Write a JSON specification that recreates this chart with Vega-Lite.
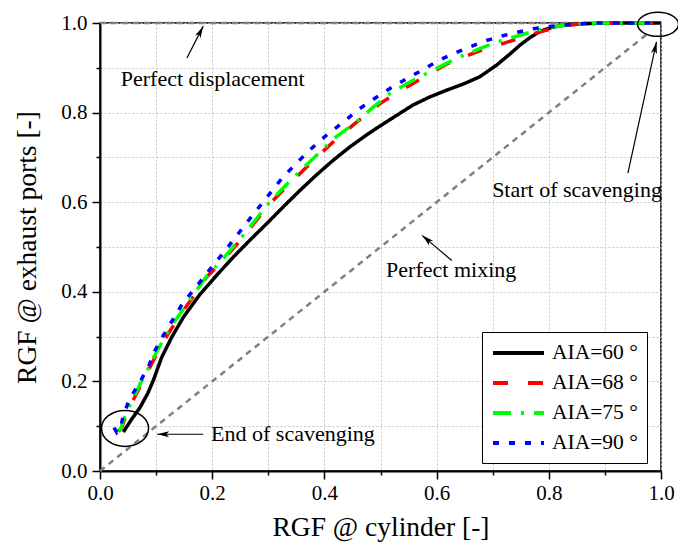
{
  "$schema": "https://vega.github.io/schema/vega-lite/v6.json",
  "width": 561,
  "height": 448,
  "autosize": "none",
  "padding": {"left": 100, "top": 23, "right": 17, "bottom": 73},
  "background": "white",
  "config": {
    "font": "Liberation Serif, Times New Roman, serif",
    "view": {"stroke": "black", "strokeWidth": 1.5},
    "text": {"font": "Liberation Serif, Times New Roman, serif"},
    "axis": {
      "grid": true,
      "gridColor": "#c8c8c8",
      "gridDash": [2, 2],
      "gridWidth": 1,
      "domainColor": "black",
      "domainWidth": 2,
      "tickColor": "black",
      "tickWidth": 1.5,
      "labelFont": "Liberation Serif, Times New Roman, serif",
      "labelFontSize": 21,
      "labelColor": "black",
      "labelFlush": false,
      "titleFont": "Liberation Serif, Times New Roman, serif",
      "titleFontSize": 27.5,
      "titleFontWeight": "normal",
      "titleColor": "black"
    },
    "legend": {
      "labelFont": "Liberation Serif, Times New Roman, serif"
    }
  },
  "datasets": {
    "curves": [
      {"series": "AIA=60 °", "i": 1, "x": 0.0416, "y": 0.087},
      {"series": "AIA=60 °", "i": 2, "x": 0.055, "y": 0.113},
      {"series": "AIA=60 °", "i": 3, "x": 0.071, "y": 0.141},
      {"series": "AIA=60 °", "i": 4, "x": 0.085, "y": 0.173},
      {"series": "AIA=60 °", "i": 5, "x": 0.095, "y": 0.202},
      {"series": "AIA=60 °", "i": 6, "x": 0.110, "y": 0.254},
      {"series": "AIA=60 °", "i": 7, "x": 0.128, "y": 0.299},
      {"series": "AIA=60 °", "i": 8, "x": 0.149, "y": 0.344},
      {"series": "AIA=60 °", "i": 9, "x": 0.178, "y": 0.394},
      {"series": "AIA=60 °", "i": 10, "x": 0.208, "y": 0.437},
      {"series": "AIA=60 °", "i": 11, "x": 0.238, "y": 0.478},
      {"series": "AIA=60 °", "i": 12, "x": 0.267, "y": 0.515},
      {"series": "AIA=60 °", "i": 13, "x": 0.297, "y": 0.552},
      {"series": "AIA=60 °", "i": 14, "x": 0.327, "y": 0.590},
      {"series": "AIA=60 °", "i": 15, "x": 0.357, "y": 0.627},
      {"series": "AIA=60 °", "i": 16, "x": 0.386, "y": 0.661},
      {"series": "AIA=60 °", "i": 17, "x": 0.416, "y": 0.694},
      {"series": "AIA=60 °", "i": 18, "x": 0.445, "y": 0.723},
      {"series": "AIA=60 °", "i": 19, "x": 0.475, "y": 0.750},
      {"series": "AIA=60 °", "i": 20, "x": 0.499, "y": 0.770},
      {"series": "AIA=60 °", "i": 21, "x": 0.529, "y": 0.794},
      {"series": "AIA=60 °", "i": 22, "x": 0.558, "y": 0.817},
      {"series": "AIA=60 °", "i": 23, "x": 0.588, "y": 0.835},
      {"series": "AIA=60 °", "i": 24, "x": 0.618, "y": 0.850},
      {"series": "AIA=60 °", "i": 25, "x": 0.648, "y": 0.864},
      {"series": "AIA=60 °", "i": 26, "x": 0.677, "y": 0.880},
      {"series": "AIA=60 °", "i": 27, "x": 0.707, "y": 0.906},
      {"series": "AIA=60 °", "i": 28, "x": 0.730, "y": 0.930},
      {"series": "AIA=60 °", "i": 29, "x": 0.749, "y": 0.951},
      {"series": "AIA=60 °", "i": 30, "x": 0.767, "y": 0.968},
      {"series": "AIA=60 °", "i": 31, "x": 0.784, "y": 0.981},
      {"series": "AIA=60 °", "i": 32, "x": 0.802, "y": 0.989},
      {"series": "AIA=60 °", "i": 33, "x": 0.820, "y": 0.994},
      {"series": "AIA=60 °", "i": 34, "x": 0.856, "y": 0.998},
      {"series": "AIA=60 °", "i": 35, "x": 0.900, "y": 1.0},
      {"series": "AIA=60 °", "i": 36, "x": 1.0, "y": 1.0},

      {"series": "AIA=68 °", "i": 1, "x": 0.033, "y": 0.088},
      {"series": "AIA=68 °", "i": 2, "x": 0.038, "y": 0.095},
      {"series": "AIA=68 °", "i": 3, "x": 0.0475, "y": 0.128},
      {"series": "AIA=68 °", "i": 4, "x": 0.060, "y": 0.160},
      {"series": "AIA=68 °", "i": 5, "x": 0.072, "y": 0.190},
      {"series": "AIA=68 °", "i": 6, "x": 0.083, "y": 0.217},
      {"series": "AIA=68 °", "i": 7, "x": 0.099, "y": 0.256},
      {"series": "AIA=68 °", "i": 8, "x": 0.116, "y": 0.295},
      {"series": "AIA=68 °", "i": 9, "x": 0.132, "y": 0.327},
      {"series": "AIA=68 °", "i": 10, "x": 0.149, "y": 0.359},
      {"series": "AIA=68 °", "i": 11, "x": 0.170, "y": 0.396},
      {"series": "AIA=68 °", "i": 12, "x": 0.190, "y": 0.433},
      {"series": "AIA=68 °", "i": 13, "x": 0.214, "y": 0.463},
      {"series": "AIA=68 °", "i": 14, "x": 0.235, "y": 0.493},
      {"series": "AIA=68 °", "i": 15, "x": 0.255, "y": 0.522},
      {"series": "AIA=68 °", "i": 16, "x": 0.278, "y": 0.558},
      {"series": "AIA=68 °", "i": 17, "x": 0.303, "y": 0.597},
      {"series": "AIA=68 °", "i": 18, "x": 0.332, "y": 0.634},
      {"series": "AIA=68 °", "i": 19, "x": 0.362, "y": 0.671},
      {"series": "AIA=68 °", "i": 20, "x": 0.392, "y": 0.707},
      {"series": "AIA=68 °", "i": 21, "x": 0.422, "y": 0.742},
      {"series": "AIA=68 °", "i": 22, "x": 0.452, "y": 0.773},
      {"series": "AIA=68 °", "i": 23, "x": 0.481, "y": 0.802},
      {"series": "AIA=68 °", "i": 24, "x": 0.499, "y": 0.820},
      {"series": "AIA=68 °", "i": 25, "x": 0.528, "y": 0.843},
      {"series": "AIA=68 °", "i": 26, "x": 0.558, "y": 0.865},
      {"series": "AIA=68 °", "i": 27, "x": 0.590, "y": 0.889},
      {"series": "AIA=68 °", "i": 28, "x": 0.621, "y": 0.910},
      {"series": "AIA=68 °", "i": 29, "x": 0.650, "y": 0.925},
      {"series": "AIA=68 °", "i": 30, "x": 0.677, "y": 0.938},
      {"series": "AIA=68 °", "i": 31, "x": 0.710, "y": 0.951},
      {"series": "AIA=68 °", "i": 32, "x": 0.743, "y": 0.964},
      {"series": "AIA=68 °", "i": 33, "x": 0.772, "y": 0.976},
      {"series": "AIA=68 °", "i": 34, "x": 0.802, "y": 0.986},
      {"series": "AIA=68 °", "i": 35, "x": 0.838, "y": 0.996},
      {"series": "AIA=68 °", "i": 36, "x": 0.880, "y": 1.0},
      {"series": "AIA=68 °", "i": 37, "x": 1.0, "y": 1.0},

      {"series": "AIA=75 °", "i": 1, "x": 0.030, "y": 0.090},
      {"series": "AIA=75 °", "i": 2, "x": 0.036, "y": 0.092},
      {"series": "AIA=75 °", "i": 3, "x": 0.046, "y": 0.128},
      {"series": "AIA=75 °", "i": 4, "x": 0.059, "y": 0.162},
      {"series": "AIA=75 °", "i": 5, "x": 0.071, "y": 0.193},
      {"series": "AIA=75 °", "i": 6, "x": 0.083, "y": 0.221},
      {"series": "AIA=75 °", "i": 7, "x": 0.098, "y": 0.259},
      {"series": "AIA=75 °", "i": 8, "x": 0.115, "y": 0.298},
      {"series": "AIA=75 °", "i": 9, "x": 0.131, "y": 0.330},
      {"series": "AIA=75 °", "i": 10, "x": 0.149, "y": 0.362},
      {"series": "AIA=75 °", "i": 11, "x": 0.170, "y": 0.399},
      {"series": "AIA=75 °", "i": 12, "x": 0.190, "y": 0.435},
      {"series": "AIA=75 °", "i": 13, "x": 0.214, "y": 0.466},
      {"series": "AIA=75 °", "i": 14, "x": 0.235, "y": 0.497},
      {"series": "AIA=75 °", "i": 15, "x": 0.255, "y": 0.526},
      {"series": "AIA=75 °", "i": 16, "x": 0.278, "y": 0.562},
      {"series": "AIA=75 °", "i": 17, "x": 0.303, "y": 0.601},
      {"series": "AIA=75 °", "i": 18, "x": 0.332, "y": 0.639},
      {"series": "AIA=75 °", "i": 19, "x": 0.362, "y": 0.676},
      {"series": "AIA=75 °", "i": 20, "x": 0.392, "y": 0.712},
      {"series": "AIA=75 °", "i": 21, "x": 0.422, "y": 0.747},
      {"series": "AIA=75 °", "i": 22, "x": 0.455, "y": 0.777},
      {"series": "AIA=75 °", "i": 23, "x": 0.486, "y": 0.811},
      {"series": "AIA=75 °", "i": 24, "x": 0.517, "y": 0.843},
      {"series": "AIA=75 °", "i": 25, "x": 0.555, "y": 0.870},
      {"series": "AIA=75 °", "i": 26, "x": 0.594, "y": 0.895},
      {"series": "AIA=75 °", "i": 27, "x": 0.636, "y": 0.921},
      {"series": "AIA=75 °", "i": 28, "x": 0.677, "y": 0.943},
      {"series": "AIA=75 °", "i": 29, "x": 0.716, "y": 0.961},
      {"series": "AIA=75 °", "i": 30, "x": 0.755, "y": 0.975},
      {"series": "AIA=75 °", "i": 31, "x": 0.792, "y": 0.988},
      {"series": "AIA=75 °", "i": 32, "x": 0.832, "y": 0.996},
      {"series": "AIA=75 °", "i": 33, "x": 0.880, "y": 1.0},
      {"series": "AIA=75 °", "i": 34, "x": 1.0, "y": 1.0},

      {"series": "AIA=90 °", "i": 1, "x": 0.025, "y": 0.097},
      {"series": "AIA=90 °", "i": 2, "x": 0.030, "y": 0.086},
      {"series": "AIA=90 °", "i": 3, "x": 0.036, "y": 0.094},
      {"series": "AIA=90 °", "i": 4, "x": 0.042, "y": 0.126},
      {"series": "AIA=90 °", "i": 5, "x": 0.053, "y": 0.161},
      {"series": "AIA=90 °", "i": 6, "x": 0.070, "y": 0.196},
      {"series": "AIA=90 °", "i": 7, "x": 0.086, "y": 0.232},
      {"series": "AIA=90 °", "i": 8, "x": 0.098, "y": 0.269},
      {"series": "AIA=90 °", "i": 9, "x": 0.113, "y": 0.303},
      {"series": "AIA=90 °", "i": 10, "x": 0.129, "y": 0.336},
      {"series": "AIA=90 °", "i": 11, "x": 0.147, "y": 0.374},
      {"series": "AIA=90 °", "i": 12, "x": 0.169, "y": 0.407},
      {"series": "AIA=90 °", "i": 13, "x": 0.190, "y": 0.441},
      {"series": "AIA=90 °", "i": 14, "x": 0.214, "y": 0.478},
      {"series": "AIA=90 °", "i": 15, "x": 0.235, "y": 0.511},
      {"series": "AIA=90 °", "i": 16, "x": 0.257, "y": 0.547},
      {"series": "AIA=90 °", "i": 17, "x": 0.279, "y": 0.582},
      {"series": "AIA=90 °", "i": 18, "x": 0.302, "y": 0.618},
      {"series": "AIA=90 °", "i": 19, "x": 0.324, "y": 0.653},
      {"series": "AIA=90 °", "i": 20, "x": 0.350, "y": 0.687},
      {"series": "AIA=90 °", "i": 21, "x": 0.377, "y": 0.720},
      {"series": "AIA=90 °", "i": 22, "x": 0.405, "y": 0.751},
      {"series": "AIA=90 °", "i": 23, "x": 0.434, "y": 0.779},
      {"series": "AIA=90 °", "i": 24, "x": 0.463, "y": 0.809},
      {"series": "AIA=90 °", "i": 25, "x": 0.490, "y": 0.832},
      {"series": "AIA=90 °", "i": 26, "x": 0.517, "y": 0.854},
      {"series": "AIA=90 °", "i": 27, "x": 0.547, "y": 0.876},
      {"series": "AIA=90 °", "i": 28, "x": 0.576, "y": 0.896},
      {"series": "AIA=90 °", "i": 29, "x": 0.603, "y": 0.916},
      {"series": "AIA=90 °", "i": 30, "x": 0.631, "y": 0.932},
      {"series": "AIA=90 °", "i": 31, "x": 0.660, "y": 0.947},
      {"series": "AIA=90 °", "i": 32, "x": 0.689, "y": 0.961},
      {"series": "AIA=90 °", "i": 33, "x": 0.716, "y": 0.971},
      {"series": "AIA=90 °", "i": 34, "x": 0.743, "y": 0.979},
      {"series": "AIA=90 °", "i": 35, "x": 0.772, "y": 0.987},
      {"series": "AIA=90 °", "i": 36, "x": 0.802, "y": 0.992},
      {"series": "AIA=90 °", "i": 37, "x": 0.832, "y": 0.996},
      {"series": "AIA=90 °", "i": 38, "x": 0.870, "y": 1.0},
      {"series": "AIA=90 °", "i": 39, "x": 1.0, "y": 1.0}
    ],
    "refs": [
      {"ref": "mixing", "i": 1, "x": 0.0, "y": 0.0},
      {"ref": "mixing", "i": 2, "x": 0.98, "y": 0.98},
      {"ref": "displacement", "i": 1, "x": 0.0, "y": 1.0},
      {"ref": "displacement", "i": 2, "x": 1.0, "y": 1.0}
    ],
    "notes": [
      {"label": "Perfect displacement", "x": 0.037, "y": 0.859},
      {"label": "Perfect mixing", "x": 0.510, "y": 0.432},
      {"label": "Start of scavenging", "x": 0.699, "y": 0.611},
      {"label": "End of scavenging", "x": 0.198, "y": 0.066}
    ],
    "arrows": [
      {"x": 0.155, "y": 0.922, "x2": 0.184, "y2": 0.993},
      {"x": 0.627, "y": 0.470, "x2": 0.574, "y2": 0.526},
      {"x": 0.941, "y": 0.665, "x2": 0.992, "y2": 0.958},
      {"x": 0.184, "y": 0.082, "x2": 0.102, "y2": 0.082}
    ],
    "endMark": [{"x": 0.0446, "y": 0.095}],
    "startMark": [{"x": 0.9947, "y": 0.997}]
  },
  "layer": [
    {
      "data": {"name": "refs"},
      "mark": {"type": "line", "stroke": "#808080", "strokeWidth": 2.5, "strokeDash": [6, 5], "clip": false},
      "encoding": {
        "x": {"field": "x", "type": "quantitative", "scale": {"domain": [0, 1], "nice": false},
          "axis": {"values": [0, 0.1, 0.2, 0.3, 0.4, 0.5, 0.6, 0.7, 0.8, 0.9, 1.0],
            "labelExpr": "round(datum.value*10)%2==0 ? format(datum.value,'.1f') : ''",
            "tickSize": {"condition": {"test": "round(datum.value*10)%2==0", "value": 8}, "value": 4},
            "labelPadding": 3, "titlePadding": 10, "title": "RGF @ cylinder [-]"}},
        "y": {"field": "y", "type": "quantitative", "scale": {"domain": [0, 1], "nice": false},
          "axis": {"values": [0, 0.1, 0.2, 0.3, 0.4, 0.5, 0.6, 0.7, 0.8, 0.9, 1.0],
            "labelExpr": "round(datum.value*10)%2==0 ? format(datum.value,'.1f') : ''",
            "tickSize": {"condition": {"test": "round(datum.value*10)%2==0", "value": 8}, "value": 4},
            "labelPadding": 5, "titlePadding": 19, "title": "RGF @ exhaust ports [-]"}},
        "detail": {"field": "ref"},
        "order": {"field": "i"}
      }
    },
    {
      "data": {"name": "curves"},
      "mark": {"type": "line", "strokeWidth": 3.5, "strokeCap": "butt", "clip": false},
      "encoding": {
        "x": {"field": "x", "type": "quantitative"},
        "y": {"field": "y", "type": "quantitative"},
        "order": {"field": "i"},
        "color": {"field": "series", "type": "nominal",
          "scale": {"domain": ["AIA=60 °", "AIA=68 °", "AIA=75 °", "AIA=90 °"], "range": ["#000000", "#ff0000", "#00ff00", "#0000ff"]},
          "legend": {"title": null, "orient": "none", "legendX": 382, "legendY": 309,
            "symbolType": "M-1,0L4.1,0", "symbolSize": 400, "symbolStrokeWidth": 4,
            "labelFont": "Liberation Serif, Times New Roman, serif", "labelFontSize": 21.5, "labelColor": "black", "labelOffset": 37,
            "strokeColor": "black", "fillColor": "white", "padding": 9, "rowPadding": 7}},
        "strokeDash": {"field": "series", "type": "nominal",
          "scale": {"domain": ["AIA=60 °", "AIA=68 °", "AIA=75 °", "AIA=90 °"], "range": [[1, 0], [15, 20], [18, 10, 3, 10], [6, 10]]},
          "legend": {"title": null, "orient": "none", "legendX": 382, "legendY": 309,
            "symbolType": "M-1,0L4.1,0", "symbolSize": 400, "symbolStrokeWidth": 4,
            "labelFont": "Liberation Serif, Times New Roman, serif", "labelFontSize": 21.5, "labelColor": "black", "labelOffset": 37,
            "strokeColor": "black", "fillColor": "white", "padding": 9, "rowPadding": 7}}
      }
    },
    {
      "data": {"name": "notes"},
      "mark": {"type": "text", "align": "left", "baseline": "alphabetic", "font": "Liberation Serif, Times New Roman, serif", "fontSize": 22, "color": "black"},
      "encoding": {
        "x": {"field": "x", "type": "quantitative"},
        "y": {"field": "y", "type": "quantitative"},
        "text": {"field": "label"}
      }
    },
    {
      "data": {"name": "arrows"},
      "mark": {"type": "rule", "color": "black", "strokeWidth": 1.2},
      "encoding": {
        "x": {"field": "x", "type": "quantitative"},
        "y": {"field": "y", "type": "quantitative"},
        "x2": {"field": "x2"},
        "y2": {"field": "y2"}
      }
    },
    {
      "data": {"name": "arrows"},
      "mark": {"type": "point", "shape": "M0,0L0.5,2L0,1.5L-0.5,2Z", "size": 144, "filled": true, "color": "black", "opacity": 1,
        "angle": {"expr": "atan2((datum.x2-datum.x)*561, (datum.y2-datum.y)*448)*180/PI"}},
      "encoding": {
        "x": {"field": "x2", "type": "quantitative"},
        "y": {"field": "y2", "type": "quantitative"}
      }
    },
    {
      "data": {"name": "endMark"},
      "mark": {"type": "point", "shape": "M-1,0A1,0.766,0,1,1,1,0A1,0.766,0,1,1,-1,0Z", "size": 2209, "filled": false, "color": "black", "strokeWidth": 1.5, "opacity": 1},
      "encoding": {
        "x": {"field": "x", "type": "quantitative"},
        "y": {"field": "y", "type": "quantitative"}
      }
    },
    {
      "data": {"name": "startMark"},
      "mark": {"type": "point", "shape": "M-1,0A1,0.585,0,1,1,1,0A1,0.585,0,1,1,-1,0Z", "size": 1681, "filled": false, "color": "black", "strokeWidth": 1.5, "opacity": 1},
      "encoding": {
        "x": {"field": "x", "type": "quantitative"},
        "y": {"field": "y", "type": "quantitative"}
      }
    }
  ]
}
